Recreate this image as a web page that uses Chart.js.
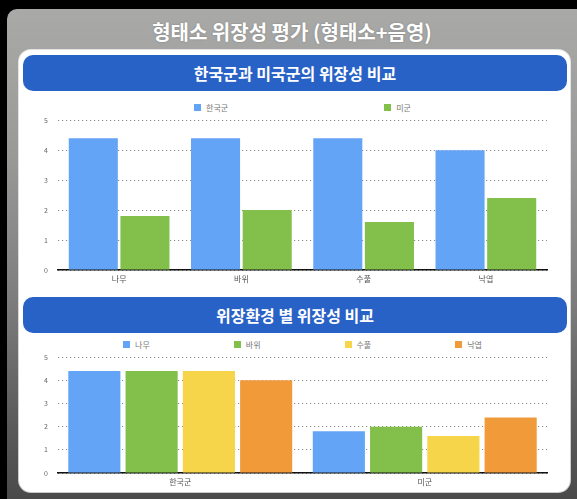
<!DOCTYPE html>
<html><head><meta charset="utf-8">
<script src="https://cdn.jsdelivr.net/npm/chart.js@4/dist/chart.umd.min.js"></script>
<style>
html,body{margin:0;padding:0;width:577px;height:499px;overflow:hidden;background:#000;font-family:"Noto Sans CJK KR","Noto Sans",sans-serif;}
#frame{position:absolute;left:7px;top:9px;width:570px;height:490px;border-radius:10px 0 0 0;background:linear-gradient(#a9aaa8 0%,#999a98 30%,#7c7c7c 60%,#5a5a5a 85%,#4a4a4a 100%);}
#title{position:absolute;left:7px;width:570px;top:18px;height:28px;line-height:28px;text-align:center;color:#fff;font-weight:700;font-size:20px;text-shadow:0 0 2px rgba(0,0,0,0.25);}
#panel{position:absolute;left:19px;top:50px;width:551px;height:442px;background:#fff;border-radius:12px;box-shadow:0 0 0 1px rgba(255,255,255,0.7);}
.hdr{position:absolute;left:23px;width:544px;height:36px;line-height:36px;background:#2962c6;border-radius:10px;color:#fff;font-weight:700;font-size:16px;text-align:center;}
.legend{position:absolute;left:58px;width:489px;height:12px;display:flex;justify-content:center;align-items:center;font-size:8px;color:#777;}
.legend .it{display:flex;align-items:center;}
.legend .bx{width:7px;height:7px;margin-right:5px;}
.cw{position:absolute;left:30px;width:525px;}
</style></head><body>
<div id="frame"></div>
<div id="title">형태소 위장성 평가 (형태소+음영)</div>
<div id="panel"></div>
<div class="hdr" style="top:55px;">한국군과 미국군의 위장성 비교</div>
<div class="legend" id="lg1" style="top:101px;"></div>
<div class="cw" style="top:106px;height:184px;"><canvas id="c1"></canvas></div>
<div class="hdr" style="top:297px;">위장환경 별 위장성 비교</div>
<div class="legend" id="lg2" style="top:338px;"></div>
<div class="cw" style="top:343px;height:150px;"><canvas id="c2"></canvas></div>
<script>
// Data
const environments = ["나무", "바위", "수풀", "낙엽"];
const armies = ["한국군", "미군"];
const koreaValues = [4.4, 4.4, 4.4, 4.0];
const usValues = [1.8, 2.0, 1.6, 2.4];
const yTicks = [0, 1, 2, 3, 4, 5];

const armyColors = ["#63a4f6", "#82c04b"];
const envColors = ["#63a4f6", "#82c04b", "#f6d54b", "#f19a3a"];

function legend(id, labels, colors, gap) {
  const el = document.getElementById(id);
  el.style.gap = gap + "px";
  labels.forEach((l, i) => {
    const it = document.createElement("div"); it.className = "it";
    const bx = document.createElement("div"); bx.className = "bx"; bx.style.background = colors[i];
    const tx = document.createElement("span"); tx.textContent = l;
    it.appendChild(bx); it.appendChild(tx); el.appendChild(it);
  });
}
legend("lg1", armies, armyColors, 156);
legend("lg2", environments, envColors, 84);

function scales() {
  return {
    x: {
      grid: { display: false, drawTicks: false },
      border: { display: true, color: "#111", width: 1.5 },
      ticks: { color: "#555", font: { size: 8, family: "Noto Sans CJK KR" }, padding: 4 },
      afterFit(s) { s.height = 20; }
    },
    y: {
      min: 0, max: 5,
      afterBuildTicks(s) { s.ticks = yTicks.map(v => ({ value: v })); },
      grid: { color: "rgba(0,0,0,0.45)", lineWidth: 1, drawTicks: false },
      border: { display: false, dash: [1.2, 2.8] },
      ticks: { color: "#666", font: { size: 7, family: "Noto Sans CJK KR" }, padding: 10 },
      afterFit(s) { s.width = 28; }
    }
  };
}

const common = (catPct, barPct) => ({
  responsive: true, maintainAspectRatio: false, animation: false,
  layout: { padding: { top: 2, right: 8, left: 0, bottom: 0 } },
  plugins: { legend: { display: false }, tooltip: { enabled: false } },
  datasets: { bar: { categoryPercentage: catPct, barPercentage: barPct } },
  scales: scales()
});

new Chart(document.getElementById("c1"), {
  type: "bar",
  data: {
    labels: environments,
    datasets: [
      { label: armies[0], data: koreaValues, backgroundColor: armyColors[0] },
      { label: armies[1], data: usValues, backgroundColor: armyColors[1] }
    ]
  },
  options: common(0.845, 0.95)
});

new Chart(document.getElementById("c2"), {
  type: "bar",
  data: {
    labels: armies,
    datasets: environments.map((env, i) => ({
      label: env,
      data: [koreaValues[i], usValues[i]],
      backgroundColor: envColors[i]
    }))
  },
  options: common(0.937, 0.91)
});
</script>
</body></html>
